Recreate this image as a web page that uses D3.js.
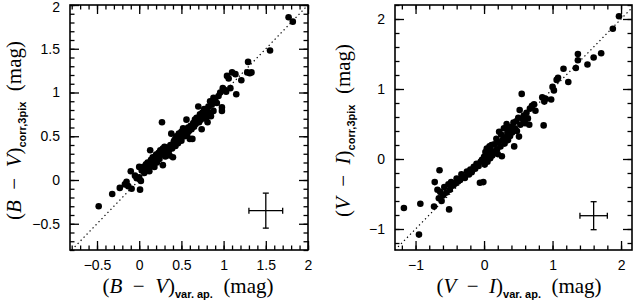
<!DOCTYPE html>
<html>
<head>
<meta charset="utf-8">
<script src="https://cdn.jsdelivr.net/npm/d3@7"></script>
<style>
  body { margin: 0; background: #fff; }
  svg { display: block; }
</style>
</head>
<body>
<svg id="chart" width="634" height="303"></svg>
<script>
// (B-V): variable aperture vs corrected 3pix
const bvPoints = [
  [-0.48,-0.30],[-0.32,-0.16],[-0.23,-0.09],[-0.17,-0.05],[-0.15,-0.02],[-0.13,-0.07],[-0.09,-0.10],
  [-0.10,0.10],[-0.05,0.05],[-0.03,0.02],[0.00,0.03],[0.01,-0.11],[0.02,-0.01],[0.00,0.15],[0.03,0.11],
  [0.05,0.15],[0.06,0.08],[0.07,0.13],[0.08,0.18],[0.10,0.20],[0.11,0.13],[0.12,0.10],[0.13,0.34],
  [0.13,0.18],[0.14,0.23],[0.15,0.16],[0.16,0.26],[0.17,0.21],[0.18,0.15],[0.19,0.24],[0.20,0.29],
  [0.21,0.20],[0.22,0.27],[0.23,0.31],[0.24,0.24],[0.25,0.34],[0.26,0.29],[0.27,0.66],[0.28,0.17],
  [0.28,0.36],[0.29,0.31],[0.30,0.38],[0.31,0.27],[0.32,0.35],[0.33,0.30],[0.34,0.37],[0.35,0.33],
  [0.36,0.28],[0.37,0.40],[0.38,0.53],[0.39,0.36],[0.40,0.26],[0.41,0.44],[0.42,0.46],[0.43,0.39],
  [0.44,0.50],[0.45,0.47],[0.46,0.42],[0.47,0.53],[0.48,0.49],[0.50,0.45],[0.50,0.55],[0.51,0.51],
  [0.52,0.59],[0.53,0.54],[0.54,0.50],[0.55,0.57],[0.56,0.69],[0.57,0.53],[0.58,0.60],[0.59,0.56],
  [0.60,0.47],[0.61,0.62],[0.62,0.58],[0.63,0.47],[0.64,0.65],[0.65,0.61],[0.66,0.69],[0.67,0.64],
  [0.68,0.71],[0.70,0.84],[0.71,0.66],[0.72,0.75],[0.73,0.69],[0.74,0.58],[0.75,0.77],[0.76,0.72],
  [0.77,0.81],[0.78,0.75],[0.79,0.70],[0.80,0.80],[0.81,0.66],[0.82,0.84],[0.83,0.77],[0.84,0.90],
  [0.85,0.73],[0.86,0.86],[0.88,0.94],[0.88,0.79],[0.90,0.92],[0.92,0.88],[0.94,0.96],[0.96,1.00],
  [0.98,0.83],[0.98,0.79],[0.99,1.05],[1.01,1.03],[1.03,1.01],[1.04,1.19],[1.06,1.16],[1.08,1.05],
  [1.10,1.23],[1.14,1.21],[1.15,0.98],[1.21,1.14],[1.28,1.23],[1.29,1.35],[1.31,1.22],[1.33,1.23],
  [1.55,1.48],[1.77,1.86],[1.82,1.81]
];

// (V-I): variable aperture vs corrected 3pix
const viPoints = [
  [-1.17,-0.70],[-0.95,-1.08],[-0.93,-0.64],[-0.73,-0.68],[-0.72,-0.33],[-0.68,-0.44],[-0.66,-0.56],
  [-0.65,-0.16],[-0.64,-0.47],[-0.62,-0.60],[-0.60,-0.52],[-0.58,-0.40],[-0.55,-0.48],[-0.52,-0.36],
  [-0.51,-0.72],[-0.50,-0.44],[-0.48,-0.33],[-0.45,-0.38],[-0.42,-0.35],[-0.40,-0.28],[-0.38,-0.32],
  [-0.35,-0.30],[-0.33,-0.22],[-0.30,-0.25],[-0.28,-0.27],[-0.25,-0.18],[-0.22,-0.22],[-0.20,-0.15],
  [-0.18,-0.19],[-0.15,-0.11],[-0.13,-0.14],[-0.11,-0.07],[-0.08,-0.10],[-0.06,-0.34],[-0.05,-0.04],
  [-0.03,-0.01],[-0.01,-0.33],[0.00,0.03],[0.01,-0.08],[0.02,0.10],[0.03,0.02],[0.04,0.15],[0.05,-0.04],
  [0.06,0.06],[0.08,0.18],[0.09,0.01],[0.10,0.12],[0.11,0.20],[0.12,0.05],[0.14,0.09],[0.15,0.21],
  [0.16,0.11],[0.18,0.29],[0.19,0.14],[0.20,0.07],[0.21,0.24],[0.22,0.39],[0.24,0.18],[0.25,0.35],
  [0.26,0.04],[0.27,0.27],[0.29,0.44],[0.30,0.22],[0.31,0.31],[0.33,0.50],[0.34,0.37],[0.35,0.27],
  [0.37,0.42],[0.38,0.33],[0.40,0.46],[0.41,0.38],[0.43,0.52],[0.44,0.18],[0.45,0.44],[0.47,0.54],
  [0.48,0.40],[0.50,0.59],[0.51,0.32],[0.52,0.70],[0.53,0.49],[0.55,0.93],[0.56,0.57],[0.58,0.62],
  [0.60,0.51],[0.62,0.66],[0.64,0.58],[0.66,0.49],[0.67,0.72],[0.70,0.76],[0.73,0.78],[0.75,0.69],
  [0.87,0.48],[0.85,0.88],[0.88,0.82],[0.90,0.86],[0.98,0.85],[1.00,1.03],[1.02,0.98],[1.06,1.13],
  [1.08,1.16],[1.16,1.29],[1.23,1.10],[1.34,1.30],[1.37,1.50],[1.37,1.41],[1.51,1.35],[1.60,1.45],
  [1.71,1.51],[1.88,1.86],[1.97,2.04]
];

// typical error cross: [x, y, errX, errY]
const bvError = [1.5, -0.35, 0.2, 0.2];
const viError = [1.6, -0.81, 0.2, 0.2];

const bvXTicks = [-0.5, 0, 0.5, 1, 1.5, 2];
const bvYTicks = [-0.5, 0, 0.5, 1, 1.5, 2];
const viXTicks = [-1, 0, 1, 2];
const viYTicks = [-1, 0, 1, 2];

const svg = d3.select("#chart");
const fmt = d => d3.format("")(d).replace("-", "\u2212");

function drawPanel(p) {
    const x = d3.scaleLinear().domain(p.xDomain).range([p.left, p.right]);
    const y = d3.scaleLinear().domain(p.yDomain).range([p.bottom, p.top]);
    const g = svg.append("g");

    // minor ticks
    const xMinor = d3.range(Math.ceil(p.xDomain[0] / p.minor) * p.minor, p.xDomain[1] + 1e-9, p.minor);
    const yMinor = d3.range(Math.ceil(p.yDomain[0] / p.minor) * p.minor, p.yDomain[1] + 1e-9, p.minor);

    const axes = [
        [() => d3.axisBottom(x), p.bottom, 0, xMinor, p.xTicks, true],
        [() => d3.axisTop(x), p.top, 0, xMinor, p.xTicks, false],
        [() => d3.axisLeft(y), p.left, 1, yMinor, p.yTicks, true],
        [() => d3.axisRight(y), p.right, 1, yMinor, p.yTicks, false]
    ];
    axes.forEach(([mk, pos, vert, minor, major, labels]) => {
        const tr = vert ? `translate(${pos},0)` : `translate(0,${pos})`;
        g.append("g").attr("transform", tr)
            .call(mk().tickValues(minor).tickSize(-4.5).tickFormat(""))
            .call(s => s.select(".domain").remove());
        g.append("g").attr("transform", tr)
            .call(mk().tickValues(major).tickSize(-9).tickPadding(10)
                .tickFormat(labels ? fmt : ""))
            .call(s => s.select(".domain").remove())
            .call(s => s.selectAll("text")
                .attr("font-family", "Liberation Sans, Arial, sans-serif")
                .attr("font-size", 14).attr("fill", "#000"));
    });
    g.selectAll(".tick line").attr("stroke", "#000").attr("stroke-width", 1.3);
    // keep the top label inside the picture
    g.selectAll(".tick text").filter(function() {
        const t = this.parentNode.getAttribute("transform");
        return /translate\(0,\s*5\.?\d*\)/.test(t) && this.textContent !== "";
    }).attr("y", 2);

    // frame
    g.append("rect")
        .attr("x", p.left).attr("y", p.top)
        .attr("width", p.right - p.left).attr("height", p.bottom - p.top)
        .attr("fill", "none").attr("stroke", "#000").attr("stroke-width", 1.6);

    // one-to-one line
    const lo = Math.max(p.xDomain[0], p.yDomain[0]);
    const hi = Math.min(p.xDomain[1], p.yDomain[1]);
    g.append("line")
        .attr("x1", x(lo)).attr("y1", y(lo)).attr("x2", x(hi)).attr("y2", y(hi))
        .attr("stroke", "#000").attr("stroke-width", 1.2)
        .attr("stroke-dasharray", "1.3,3");

    g.append("g").selectAll("circle")
        .data(p.points)
        .join("circle")
        .attr("cx", d => x(d[0]))
        .attr("cy", d => y(d[1]))
        .attr("r", 3.3)
        .attr("fill", "#000");

    // error cross
    const [ex, ey, dx, dy] = p.error;
    const cap = 3;
    const err = g.append("g").attr("stroke", "#000").attr("stroke-width", 1.3);
    err.append("line").attr("x1", x(ex - dx)).attr("x2", x(ex + dx)).attr("y1", y(ey)).attr("y2", y(ey));
    err.append("line").attr("x1", x(ex)).attr("x2", x(ex)).attr("y1", y(ey - dy)).attr("y2", y(ey + dy));
    err.append("line").attr("x1", x(ex - dx)).attr("x2", x(ex - dx)).attr("y1", y(ey) - cap).attr("y2", y(ey) + cap);
    err.append("line").attr("x1", x(ex + dx)).attr("x2", x(ex + dx)).attr("y1", y(ey) - cap).attr("y2", y(ey) + cap);
    err.append("line").attr("x1", x(ex) - cap).attr("x2", x(ex) + cap).attr("y1", y(ey - dy)).attr("y2", y(ey - dy));
    err.append("line").attr("x1", x(ex) - cap).attr("x2", x(ex) + cap).attr("y1", y(ey + dy)).attr("y2", y(ey + dy));

    // axis titles
    title(g, p.xTitleX, 293, 0, p.names, "var. ap.");
    title(g, p.yTitleX, (p.top + p.bottom) / 2 + 3, -90, p.names, "corr,3pix");
}

function title(g, tx, ty, rot, names, sub) {
    const t = g.append("text")
        .attr("transform", `translate(${tx},${ty}) rotate(${rot})`)
        .attr("text-anchor", "middle")
        .attr("font-family", "Liberation Serif, Times New Roman, serif")
        .attr("font-size", 21).attr("fill", "#000");
    t.append("tspan").text("(");
    t.append("tspan").attr("font-style", "italic").text(names[0]);
    t.append("tspan").text("\u2002\u2212\u2002");
    t.append("tspan").attr("font-style", "italic").text(names[1]);
    t.append("tspan").text(")");
    t.append("tspan").attr("dy", 5)
        .attr("font-family", "Liberation Sans, Arial, sans-serif")
        .attr("font-weight", "bold").attr("font-size", 11).text(sub);
    t.append("tspan").attr("dy", -5).text("\u2002(mag)");
}

drawPanel({
    left: 70, right: 308, top: 5, bottom: 250,
    xDomain: [-0.82, 2], yDomain: [-0.8, 2], minor: 0.1,
    xTicks: bvXTicks, yTicks: bvYTicks,
    points: bvPoints, error: bvError,
    names: ["B", "V"], xTitleX: 188, yTitleX: 21
});

drawPanel({
    left: 395, right: 632, top: 5, bottom: 250,
    xDomain: [-1.3, 2.16], yDomain: [-1.3, 2.2], minor: 0.2,
    xTicks: viXTicks, yTicks: viYTicks,
    points: viPoints, error: viError,
    names: ["V", "I"], xTitleX: 519, yTitleX: 350
});
</script>
</body>
</html>
